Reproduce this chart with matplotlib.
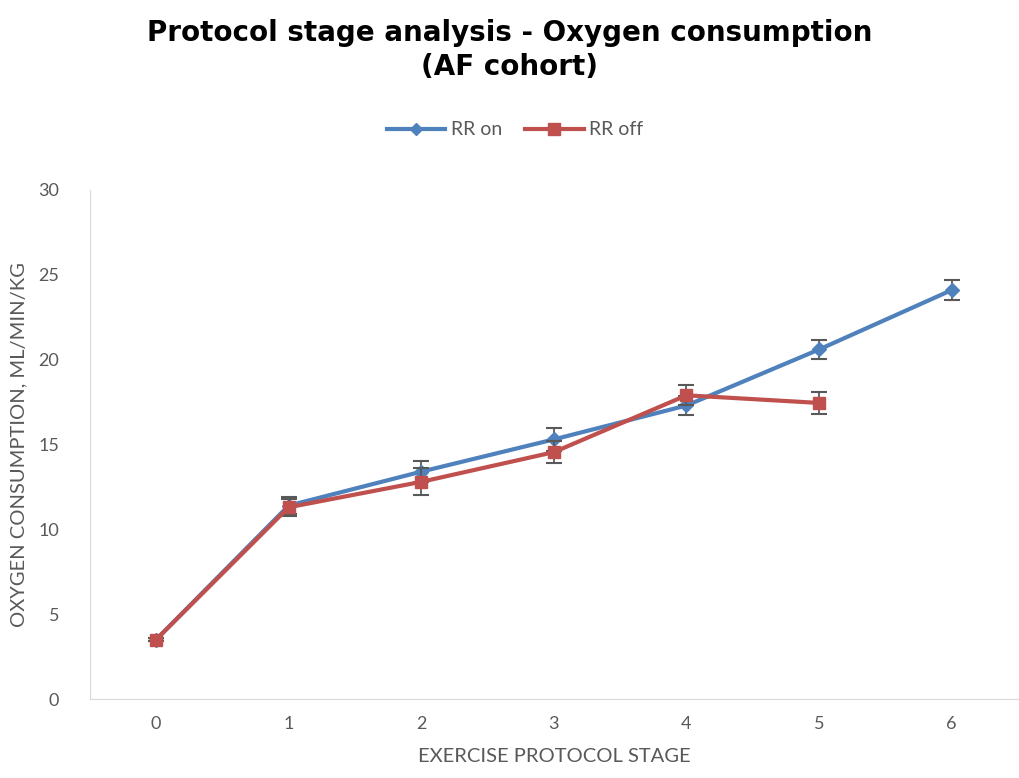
import numpy as np
import matplotlib.pyplot as plt
from matplotlib.lines import Line2D

plt.rcParams['font.family'] = ['Lato', 'DejaVu Sans']

stages = [0, 1, 2, 3, 4, 5, 6]
rr_on = [3.5, 11.4, 13.4, 15.3, 17.3, 20.6, 24.1]
rr_on_err = [0.1, 0.5, 0.6, 0.7, 0.55, 0.57, 0.6]
rr_off = [3.5, 11.3, 12.8, 14.55, 17.9, 17.45]
rr_off_err = [0.1, 0.5, 0.8, 0.65, 0.6, 0.65]

blue = '#4F81BD'
red = '#C0504D'
errc = '#595959'

fig = plt.figure(figsize=(10.2, 7.78), dpi=100)
ax = fig.add_axes([0.088, 0.1015, 0.91, 0.6543])

ax.errorbar(stages, rr_on, yerr=rr_on_err, color=blue, lw=3, marker='D', ms=7,
            ecolor=errc, elinewidth=1.3, capsize=6, capthick=1.5, zorder=3)
ax.errorbar(stages[:len(rr_off)], rr_off, yerr=rr_off_err, color=red, lw=3, marker='s', ms=9,
            ecolor=errc, elinewidth=1.3, capsize=6, capthick=1.5, zorder=4)

ax.set_xlim(-0.5, 6.5)
ax.set_ylim(0, 30)
ax.set_xticks(stages)
ax.set_yticks(range(0, 31, 5))
ax.tick_params(axis='both', length=0, labelsize=13, labelcolor='#595959', pad=12)
ax.tick_params(axis='y', pad=22)
for s in ['top', 'right']:
    ax.spines[s].set_visible(False)
for s in ['left', 'bottom']:
    ax.spines[s].set_color('#D9D9D9')

ax.set_xlabel('EXERCISE PROTOCOL STAGE', fontsize=14.5, color='#595959', labelpad=12)
ax.set_ylabel('OXYGEN CONSUMPTION, ML/MIN/KG', fontsize=14.5, color='#595959', labelpad=8)

fig.text(0.5, 0.975, 'Protocol stage analysis - Oxygen consumption\n(AF cohort)',
         ha='center', va='top', fontsize=20, fontweight='bold', linespacing=1.25,
         family='DejaVu Sans')

handles = [Line2D([], [], color=blue, lw=3, marker='D', ms=6),
           Line2D([], [], color=red, lw=3, marker='s', ms=8)]
fig.legend(handles, ['RR on', 'RR off'], loc='center', bbox_to_anchor=(0.505, 0.833), ncol=2,
           frameon=False, fontsize=14, labelcolor='#595959', handlelength=3,
           columnspacing=1.2, handletextpad=0.3)

fig.savefig('out.png', dpi=100)
